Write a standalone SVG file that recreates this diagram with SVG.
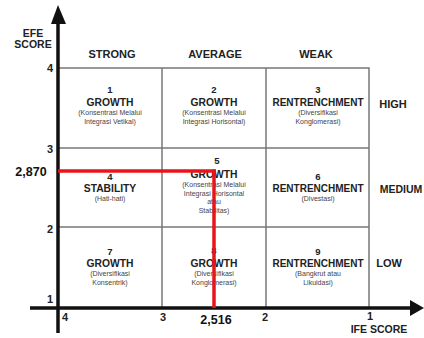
<svg xmlns="http://www.w3.org/2000/svg" width="424" height="338" viewBox="0 0 424 338">
<style>
text{font-family:"Liberation Sans",Arial,sans-serif;text-anchor:middle}
.h{font-size:11px;font-weight:bold;fill:#222}
.n{font-size:9.5px;font-weight:bold;fill:#222}
.t{font-size:10.3px;font-weight:bold;fill:#222}
.s{font-size:7px;fill:#444}
.tk{font-size:11px;font-weight:bold;fill:#222}
.v{font-size:12.5px;font-weight:bold;fill:#111}
.grid{fill:none;stroke:#777;stroke-width:1.5}
.ax{stroke:#111;stroke-width:3.5;fill:none}
.red{stroke:#e8141b;stroke-width:3.5;fill:none}
</style>
<rect width="424" height="338" fill="#fff"/>
<g id="grid">
<rect class="grid" x="58" y="68" width="311" height="240"/>
<line class="grid" x1="162" y1="68" x2="162" y2="308"/>
<line class="grid" x1="266" y1="68" x2="266" y2="308"/>
<line class="grid" x1="58" y1="148" x2="369" y2="148"/>
<line class="grid" x1="58" y1="227" x2="369" y2="227"/>
</g>
<g id="cell1"><text class="n" x="110" y="93">1</text><text class="t" x="110" y="106">GROWTH</text><text class="s" x="110" y="115">(Konsentrasi Melalui</text><text class="s" x="110" y="124">Integrasi Vetikal)</text></g>
<g id="cell2"><text class="n" x="214" y="93">2</text><text class="t" x="214" y="106">GROWTH</text><text class="s" x="214" y="115">(Konsentrasi Melalui</text><text class="s" x="214" y="124">Integrasi Horisontal)</text></g>
<g id="cell3"><text class="n" x="318" y="93">3</text><text class="t" x="318" y="106" style="font-size:10px">RENTRENCHMENT</text><text class="s" x="318" y="115">(Diversifikasi</text><text class="s" x="318" y="124">Konglomerasi)</text></g>
<g id="cell4"><text class="n" x="110" y="180">4</text><text class="t" x="110" y="192">STABILITY</text><text class="s" x="110" y="201">(Hati-hati)</text></g>
<g id="cell5"><text class="n" x="217" y="164">5</text><text class="t" x="214" y="178">GROWTH</text><text class="s" x="214" y="187">(Konsentrasi Melalui</text><text class="s" x="214" y="196">Integrasi Horisontal</text><text class="s" x="214" y="204">atau</text><text class="s" x="214" y="213">Stabilitas)</text></g>
<g id="cell6"><text class="n" x="318" y="180">6</text><text class="t" x="318" y="192" style="font-size:10px">RENTRENCHMENT</text><text class="s" x="318" y="201">(Divestasi)</text></g>
<g id="cell7"><text class="n" x="110" y="255">7</text><text class="t" x="110" y="267">GROWTH</text><text class="s" x="110" y="276">(Diversifikasi</text><text class="s" x="110" y="285">Konsentrik)</text></g>
<g id="cell8"><text class="n" x="214" y="254">8</text><text class="t" x="214" y="267">GROWTH</text><text class="s" x="214" y="276">(Diversifikasi</text><text class="s" x="214" y="285">Konglomerasi)</text></g>
<g id="cell9"><text class="n" x="318" y="255">9</text><text class="t" x="318" y="267" style="font-size:10px">RENTRENCHMENT</text><text class="s" x="318" y="276">(Bangkrut atau</text><text class="s" x="318" y="285">Likuidasi)</text></g>
<g id="headers">
<text class="h" x="112" y="58">STRONG</text>
<text class="h" x="215" y="58">AVERAGE</text>
<text class="h" x="316" y="58">WEAK</text>
<text class="h" x="393" y="108">HIGH</text>
<text class="h" x="401" y="193" style="font-size:10.5px">MEDIUM</text>
<text class="h" x="389" y="267">LOW</text>
<text class="h" x="33" y="37" style="font-size:10.5px">EFE</text>
<text class="h" x="33" y="48" style="font-size:10.5px">SCORE</text>
<text class="h" x="379" y="333" style="font-size:10.5px">IFE SCORE</text>
</g>
<g id="ticks">
<text class="tk" x="50" y="72">4</text>
<text class="tk" x="50" y="153">3</text>
<text class="tk" x="50" y="233">2</text>
<text class="tk" x="50" y="303">1</text>
<text class="tk" x="65" y="321">4</text>
<text class="tk" x="163" y="321">3</text>
<text class="tk" x="265" y="321">2</text>
<text class="tk" x="370" y="320">1</text>
<text class="v" x="31" y="176">2,870</text>
<text class="v" x="216" y="324">2,516</text>
</g>
<g id="connectors">
<line class="ax" x1="58" y1="20" x2="58" y2="333"/>
<polygon points="58,5 51,24 66,24" fill="#111"/>
<line class="ax" x1="30" y1="308" x2="412" y2="308"/>
<polygon points="424,308 410,300 410,316" fill="#111"/>
<line class="red" x1="58" y1="171" x2="216" y2="171"/>
<line class="red" x1="214" y1="169.5" x2="214" y2="308"/>
</g>
</svg>
